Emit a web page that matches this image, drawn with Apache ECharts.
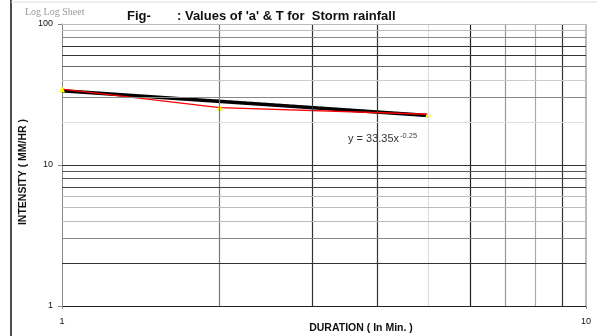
<!DOCTYPE html>
<html>
<head>
<meta charset="utf-8">
<script src="https://cdn.jsdelivr.net/npm/echarts@6/dist/echarts.min.js"></script>
<style>html,body{margin:0;padding:0;background:#fff}#c{width:597px;height:336px}</style>
</head>
<body>
<div id="c"></div>
<script>
// Observed data (duration in min, intensity in mm/hr)
var durations = [1, 2, 5];
var intensity = [34.5, 25.5, 22.9];
// Power trendline y = 33.35x^-0.25 as read at its ends
var trendX = [1, 5];
var trendY = [33.6, 22.4];
// faint dashed line visible just above the trend
var dashX = [1.9, 4.7];
var dashY = [29.3, 23.2];
// gridline positions
var xGrid = [2, 3, 4, 5, 6, 7, 8, 9, 10];
var yGrid = [2, 3, 4, 5, 6, 7, 8, 9, 10, 20, 30, 40, 50, 60, 70, 80, 90, 100];
var yTicks = [1, 10, 100];
var xTicks = [1, 10];

var xGridColors = ['#777', '#333', '#333', '#ddd', '#222', '#999', '#aaa', '#333', '#bbb'];
var yGridColors = ['#333', '#888', '#bbb', '#bbb', '#bbb', '#444', '#555', '#555', '#333',
                   '#ddd', '#888', '#ccc', '#666', '#333', '#333', '#888', '#bbb', '#bbb'];

function pairs(xs, ys) { return xs.map(function (x, i) { return [x, ys[i]]; }); }

var gridLines = [];
xGrid.forEach(function (v, i) {
  gridLines.push({ xAxis: v, lineStyle: { color: xGridColors[i], width: (v === 10 ? 2 : 1.2), type: 'solid' } });
});
yGrid.forEach(function (v, i) {
  gridLines.push({ yAxis: v, lineStyle: { color: yGridColors[i], width: 1.2, type: 'solid' } });
});

var chart = echarts.init(document.getElementById('c'), null, { renderer: 'canvas' });
var font = '"Liberation Sans", Arial, sans-serif';
chart.setOption({
  animation: false,
  backgroundColor: '#fff',
  grid: { left: 62, right: 11, top: 24, bottom: 30, containLabel: false, outerBoundsMode: 'none' },
  xAxis: {
    type: 'log', logBase: 10, min: 1, max: 10,
    name: 'DURATION ( In Min. )', nameLocation: 'middle', nameGap: 17, nameMoveOverlap: false,
    nameTextStyle: { fontFamily: font, fontWeight: 'bold', fontSize: 10.5, color: '#111', padding: [0, 0, 0, 74] },
    axisLine: { show: true, lineStyle: { color: '#222', width: 1.2 } },
    axisTick: { show: true, length: 3, inside: false, lineStyle: { color: '#888' } },
    axisLabel: { fontFamily: font, fontSize: 9, color: '#111', margin: 11,
      formatter: function (v) { return xTicks.indexOf(Math.round(v)) >= 0 ? String(Math.round(v)) : ''; } },
    splitLine: { show: false }
  },
  yAxis: {
    type: 'log', logBase: 10, min: 1, max: 100,
    name: 'INTENSITY ( MM/HR )', nameLocation: 'middle', nameGap: 33, nameRotate: 90, nameMoveOverlap: false,
    nameTextStyle: { fontFamily: font, fontWeight: 'bold', fontSize: 10.5, color: '#111', padding: [0, 14, 0, 0] },
    axisLine: { show: true, lineStyle: { color: '#888', width: 1 } },
    axisTick: { show: true, length: 4, lineStyle: { color: '#888' } },
    axisLabel: { fontFamily: font, fontSize: 9, color: '#111', margin: 9,
      formatter: function (v) { return yTicks.indexOf(Math.round(v)) >= 0 ? String(Math.round(v)) : ''; } },
    splitLine: { show: false }
  },
  graphic: [
    { type: 'line', shape: { x1: 11, y1: 0, x2: 11, y2: 336 }, style: { stroke: '#111', lineWidth: 1.5 } },
    { type: 'line', shape: { x1: 11, y1: 2, x2: 597, y2: 2 }, style: { stroke: '#ddd', lineWidth: 1 } },
    { type: 'text', left: 25, top: 7, style: { text: 'Log Log Sheet', font: '10px "Liberation Serif", serif', fill: '#999' } },
    { type: 'text', left: 127, top: 10, style: { text: 'Fig-', font: 'bold 13px ' + font, fill: '#111' } },
    { type: 'text', left: 177, top: 10, style: { text: ": Values of 'a' & T for  Storm rainfall", font: 'bold 13px ' + font, fill: '#111' } },
    { type: 'text', left: 348, top: 132, style: {
        text: '{a|y = 33.35x}{b|-0.25}',
        rich: { a: { font: '11px ' + font, fill: '#333' }, b: { font: '7.5px ' + font, fill: '#444', verticalAlign: 'top', padding: [0, 0, 6, 1] } } } }
  ],
  series: [
    {
      type: 'line', name: 'grid', data: [], silent: true,
      markLine: { silent: true, symbol: 'none', label: { show: false }, animation: false, data: gridLines }, z: 1
    },
    {
      type: 'line', name: 'dashed', data: pairs(dashX, dashY), showSymbol: false,
      lineStyle: { color: '#aaa', width: 1, type: [4, 3] }, z: 2
    },
    {
      type: 'line', name: 'trend', data: pairs(trendX, trendY), showSymbol: false,
      lineStyle: { color: '#000', width: 3.5 }, z: 3
    },
    {
      type: 'line', name: 'observed', data: pairs(durations, intensity),
      symbol: 'triangle', symbolSize: 6,
      itemStyle: { color: '#ffff00' },
      lineStyle: { color: '#ff0000', width: 1.3 }, z: 4
    }
  ]
});
</script>
</body>
</html>
